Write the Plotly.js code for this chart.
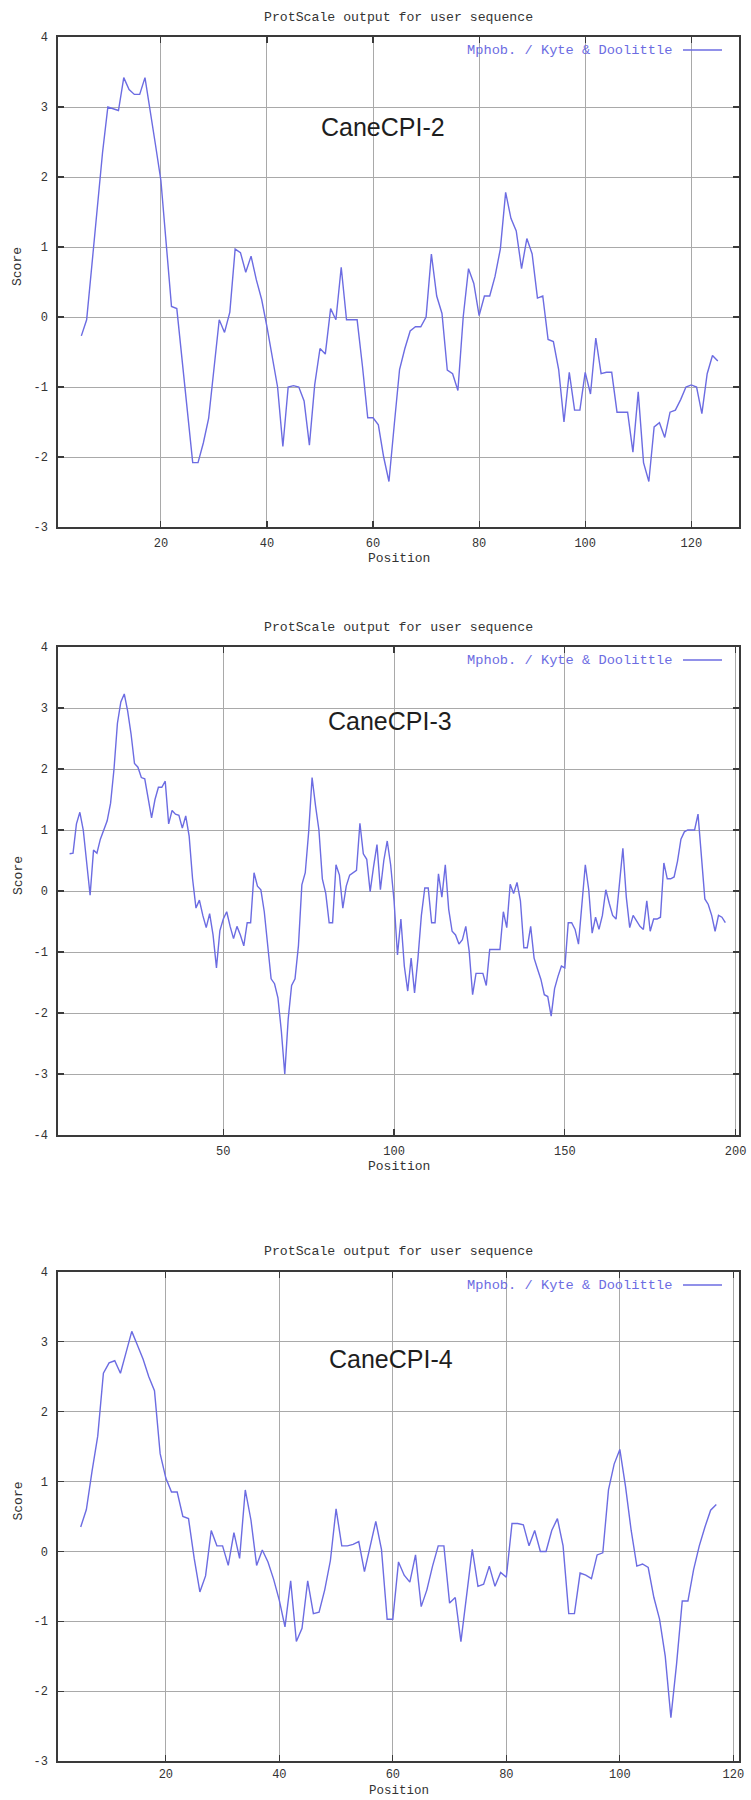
<!DOCTYPE html>
<html>
<head>
<meta charset="utf-8">
<script src="https://cdn.plot.ly/plotly-3.0.1.min.js"></script>
<style>html,body{margin:0;padding:0;background:#fff;}#chart{width:751px;height:1800px;}</style>
</head>
<body>
<div id="chart"></div>
<script>
// ---- data (Kyte & Doolittle hydrophobicity, window 9) ----
const cpi2Start = 5;
const cpi2Scores = [-0.27, -0.04, 0.75, 1.55, 2.35, 3.0, 2.98, 2.95, 3.42, 3.25,
  3.18, 3.18, 3.42, 2.9, 2.45, 1.95, 1.0, 0.15, 0.12, -0.6,
  -1.35, -2.08, -2.08, -1.8, -1.45, -0.7, -0.04, -0.22, 0.07, 0.97,
  0.92, 0.64, 0.87, 0.53, 0.25, -0.14, -0.6, -1.0, -1.85, -1.0,
  -0.98, -1.0, -1.2, -1.83, -0.97, -0.45, -0.53, 0.12, -0.04, 0.71,
  -0.04, -0.04, -0.04, -0.7, -1.44, -1.44, -1.54, -2.0, -2.35, -1.54,
  -0.75, -0.45, -0.2, -0.14, -0.14, 0.0, 0.9, 0.3, 0.05, -0.76,
  -0.81, -1.05, 0.0, 0.69, 0.48, 0.02, 0.3, 0.3, 0.58, 0.97,
  1.78, 1.41, 1.23, 0.69, 1.12, 0.9, 0.27, 0.3, -0.32, -0.35,
  -0.75, -1.5, -0.79, -1.33, -1.33, -0.79, -1.1, -0.3, -0.81, -0.79,
  -0.79, -1.36, -1.36, -1.36, -1.93, -1.07, -2.08, -2.35, -1.57, -1.51,
  -1.72, -1.36, -1.33, -1.18, -1.0, -0.97, -1.0, -1.38, -0.81, -0.55, -0.63];

const cpi3Start = 5;
const cpi3Scores = [0.61, 0.62, 1.1, 1.29, 1.0, 0.45, -0.07, 0.67, 0.62, 0.85,
  1.0, 1.15, 1.44, 2.0, 2.75, 3.1, 3.23, 2.95, 2.57, 2.09,
  2.03, 1.86, 1.84, 1.5, 1.2, 1.5, 1.7, 1.7, 1.8, 1.1,
  1.32, 1.26, 1.24, 1.03, 1.23, 0.9, 0.2, -0.28, -0.15, -0.4,
  -0.6, -0.37, -0.72, -1.26, -0.65, -0.46, -0.34, -0.58, -0.78, -0.58,
  -0.72, -0.9, -0.52, -0.52, 0.3, 0.08, 0.02, -0.34, -0.87, -1.44,
  -1.52, -1.75, -2.3, -3.0, -2.1, -1.55, -1.44, -0.9, 0.1, 0.3,
  0.97, 1.86, 1.4, 1.0, 0.2, -0.04, -0.52, -0.52, 0.43, 0.26,
  -0.28, 0.08, 0.26, 0.3, 0.34, 1.11, 0.61, 0.52, -0.01, 0.4,
  0.76, 0.02, 0.5, 0.82, 0.43, -0.16, -1.05, -0.46, -1.23, -1.64,
  -1.1, -1.67, -1.1, -0.4, 0.05, 0.05, -0.52, -0.52, 0.28, -0.1,
  0.43, -0.3, -0.66, -0.72, -0.87, -0.8, -0.58, -0.99, -1.7, -1.35,
  -1.35, -1.35, -1.55, -0.96, -0.96, -0.96, -0.96, -0.34, -0.6, 0.11,
  -0.04, 0.14, -0.16, -0.93, -0.93, -0.58, -1.1, -1.28, -1.45, -1.7,
  -1.73, -2.05, -1.6, -1.4, -1.23, -1.26, -0.52, -0.52, -0.63, -0.87,
  -0.22, 0.43, 0.02, -0.69, -0.43, -0.63, -0.4, 0.02, -0.2, -0.4,
  -0.46, 0.1, 0.7, -0.1, -0.6, -0.4, -0.5, -0.58, -0.63, -0.16,
  -0.66, -0.46, -0.46, -0.43, 0.46, 0.2, 0.2, 0.23, 0.49, 0.85,
  0.97, 1.0, 1.0, 1.0, 1.26, 0.61, -0.13, -0.22, -0.4, -0.66,
  -0.4, -0.43, -0.52];

const cpi4Start = 5;
const cpi4Scores = [0.35, 0.6, 1.15, 1.65, 2.55, 2.7, 2.73, 2.55, 2.85, 3.15,
  2.95, 2.75, 2.5, 2.3, 1.4, 1.05, 0.85, 0.85, 0.5, 0.47,
  -0.1, -0.58, -0.35, 0.3, 0.08, 0.08, -0.2, 0.27, -0.1, 0.88,
  0.45, -0.2, 0.02, -0.15, -0.4, -0.7, -1.08, -0.42, -1.29, -1.1,
  -0.42, -0.89, -0.87, -0.55, -0.13, 0.61, 0.08, 0.08, 0.1, 0.14,
  -0.29, 0.08, 0.43, 0.03, -0.97, -0.97, -0.15, -0.34, -0.44, -0.05,
  -0.79, -0.55, -0.21, 0.08, 0.08, -0.74, -0.66, -1.29, -0.66, 0.03,
  -0.5, -0.47, -0.21, -0.5, -0.3, -0.37, 0.4, 0.4, 0.38, 0.08,
  0.3, 0.0, 0.0, 0.3, 0.47, 0.08, -0.89, -0.89, -0.31, -0.34,
  -0.39, -0.05, -0.02, 0.88, 1.25, 1.46, 0.93, 0.3, -0.21, -0.18,
  -0.23, -0.66, -0.97, -1.5, -2.38, -1.61, -0.71, -0.71, -0.26, 0.08,
  0.35, 0.59, 0.67];

const panelNames = ["CaneCPI-2", "CaneCPI-3", "CaneCPI-4"];
const xTicks2 = [20, 40, 60, 80, 100, 120];
const xTicks3 = [50, 100, 150, 200];
const xTicks4 = [20, 40, 60, 80, 100, 120];
const yTicks2 = [-3, -2, -1, 0, 1, 2, 3, 4];
const yTicks3 = [-4, -3, -2, -1, 0, 1, 2, 3, 4];
const yTicks4 = [-3, -2, -1, 0, 1, 2, 3, 4];
const plotTitle = "ProtScale output for user sequence";
const legendLabel = "Mphob. / Kyte & Doolittle";
const xLabel = "Position";
const yLabel = "Score";

// ---- build ----
function positions(start, n) { const p = []; for (let i = 0; i < n; i++) p.push(start + i); return p; }

const W = 751, H = 1800;
const LINE = "rgb(108,108,226)";
const MONO = "Liberation Mono, DejaVu Sans Mono, monospace";
const TXT = "#333";

const traces = [
  {x: positions(cpi2Start, cpi2Scores.length), y: cpi2Scores, xaxis: "x", yaxis: "y"},
  {x: positions(cpi3Start, cpi3Scores.length), y: cpi3Scores, xaxis: "x2", yaxis: "y2"},
  {x: positions(cpi4Start, cpi4Scores.length), y: cpi4Scores, xaxis: "x3", yaxis: "y3"}
].map(t => Object.assign(t, {type: "scatter", mode: "lines", line: {color: LINE, width: 1.4}, showlegend: false, hoverinfo: "skip"}));

// panel geometry in pixels
const plotL = 58, plotR = 739;
const panels = [
  {top: 37, bottom: 527, xr: [0.6, 129], yr: [-3, 4], xt: xTicks2, yt: yTicks2, title: 17, pos: 558, pos_fs: 13, stand: 4, ann: [61.8, 2.72]},
  {top: 647, bottom: 1135, xr: [1.6, 201], yr: [-4, 4], xt: xTicks3, yt: yTicks3, title: 627, pos: 1166, pos_fs: 13, stand: 4, ann: [98.8, 2.79]},
  {top: 1272, bottom: 1761, xr: [1, 121], yr: [-3, 4], xt: xTicks4, yt: yTicks4, title: 1251, pos: 1791, pos_fs: 12.5, stand: 1, ann: [59.7, 2.75]}
];

const py = v => 1 - v / H, px = v => v / W;
const layout = {
  width: W, height: H, margin: {l: 0, r: 0, t: 0, b: 0},
  paper_bgcolor: "#fff", plot_bgcolor: "#fff", showlegend: false,
  annotations: [], shapes: []
};

const axBase = {
  showline: true, linecolor: "#3a3a3a", linewidth: 1.6, mirror: "ticks",
  ticks: "inside", ticklen: 6, tickwidth: 1.2, tickcolor: "#3a3a3a",
  showgrid: true, gridcolor: "#a9a9a9", gridwidth: 1, zeroline: false,
  tickfont: {family: MONO, size: 12, color: TXT}, fixedrange: true
};

panels.forEach((p, i) => {
  const s = i === 0 ? "" : String(i + 1);
  layout["xaxis" + s] = Object.assign({}, axBase, {
    domain: [px(plotL), px(plotR)], range: p.xr, anchor: "y" + s,
    tickmode: "array", tickvals: p.xt, ticktext: p.xt.map(String), ticklabelstandoff: p.stand
  });
  layout["yaxis" + s] = Object.assign({}, axBase, {
    domain: [py(p.bottom), py(p.top)], range: p.yr, anchor: "x" + s,
    tickmode: "array", tickvals: p.yt, ticktext: p.yt.map(String), ticklabelstandoff: 6
  });
  const cx = (plotL + plotR) / 2;
  layout.annotations.push(
    {xref: "paper", yref: "paper", x: px(cx), y: py(p.title), text: plotTitle, showarrow: false,
     xanchor: "center", yanchor: "middle", font: {family: MONO, size: 13.2, color: TXT}},
    {xref: "paper", yref: "paper", x: px(cx), y: py(p.pos), text: xLabel, showarrow: false,
     xanchor: "center", yanchor: "middle", font: {family: MONO, size: p.pos_fs, color: TXT}},
    {xref: "paper", yref: "paper", x: px(18), y: py((p.top + p.bottom) / 2 - 15), text: yLabel, showarrow: false,
     textangle: -90, xanchor: "center", yanchor: "middle", font: {family: MONO, size: 13, color: TXT}},
    {xref: "x" + s, yref: "y" + s, x: p.ann[0], y: p.ann[1], text: panelNames[i], showarrow: false,
     xanchor: "center", yanchor: "middle", font: {family: "Liberation Sans, Arial, sans-serif", size: 25, color: "#1e1e1e"}},
    {xref: "paper", yref: "paper", x: px(674), y: py(p.top + 13), text: legendLabel, showarrow: false,
     xanchor: "right", yanchor: "middle", font: {family: MONO, size: 13.7, color: LINE}}
  );
  layout.shapes.push({type: "line", xref: "paper", yref: "paper", x0: px(683), x1: px(722),
    y0: py(p.top + 13), y1: py(p.top + 13), line: {color: LINE, width: 1.4}});
});

Plotly.newPlot("chart", traces, layout, {staticPlot: true, displayModeBar: false});
</script>
</body>
</html>
